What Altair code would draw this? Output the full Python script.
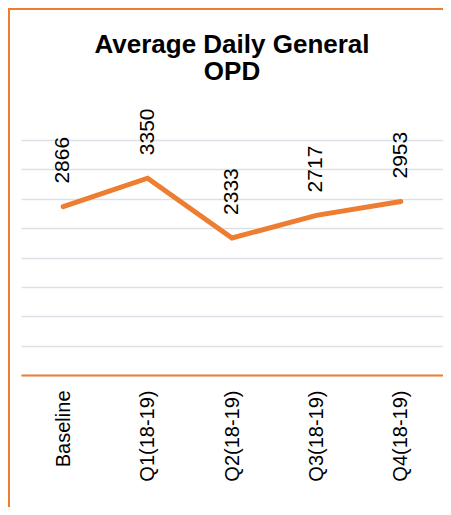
import altair as alt
import pandas as pd

categories = ["Baseline", "Q1(18-19)", "Q2(18-19)", "Q3(18-19)", "Q4(18-19)"]
values = [2866, 3350, 2333, 2717, 2953]
y_ticks = [0, 500, 1000, 1500, 2000, 2500, 3000, 3500, 4000]

ORANGE = "#ED7D31"
FONT = "Liberation Sans"

df = pd.DataFrame({"cat": categories, "val": values})

x_enc = alt.X(
    "cat:N",
    sort=categories,
    scale=alt.Scale(type="point", padding=0.5),
    axis=alt.Axis(
        title=None,
        labelAngle=270,
        labelFontSize=20,
        labelFont=FONT,
        labelColor="#000000",
        labelPadding=15,
        ticks=False,
        domainColor=ORANGE,
        domainWidth=2,
        grid=False,
    ),
)
y_enc = alt.Y(
    "val:Q",
    scale=alt.Scale(domain=[0, 4000], nice=False),
    axis=alt.Axis(
        title=None,
        labels=False,
        ticks=False,
        domain=False,
        values=y_ticks,
        grid=True,
        gridColor="#DCE1E8",
        gridWidth=1.5,
    ),
)

base = alt.Chart(df)

line = base.mark_line(color=ORANGE, strokeWidth=5, strokeCap="round").encode(x=x_enc, y=y_enc)

labels = base.mark_text(
    angle=270, align="left", baseline="middle", dx=23, fontSize=21, font=FONT, color="#000000"
).encode(x=x_enc, y=y_enc, text=alt.Text("val:Q"))

border_df = pd.DataFrame({"a": [0]})
left_border = alt.Chart(border_df).mark_rule(color=ORANGE, strokeWidth=2).encode(
    x=alt.value(-12), y=alt.value(-132), y2=alt.value(367)
)
top_border = alt.Chart(border_df).mark_rule(color=ORANGE, strokeWidth=2).encode(
    x=alt.value(-13), x2=alt.value(430), y=alt.value(-131)
)

chart = (
    alt.layer(line, labels, left_border, top_border)
    .properties(
        width=422,
        height=235,
        autosize=alt.AutoSizeParams(type="none"),
        padding={"left": 13, "top": 132, "right": 0, "bottom": 132},
        title=alt.Title(
            ["Average Daily General", "OPD"],
            font=FONT,
            fontSize=26,
            fontWeight="bold",
            color="#000000",
            anchor="middle",
            frame="group",
            baseline="top",
            offset=-78,
            lineHeight=27,
        ),
        background="#FFFFFF",
    )
    .configure_view(strokeWidth=0)
)

chart.save("out.html", embed_options={"renderer": "svg", "actions": False})
